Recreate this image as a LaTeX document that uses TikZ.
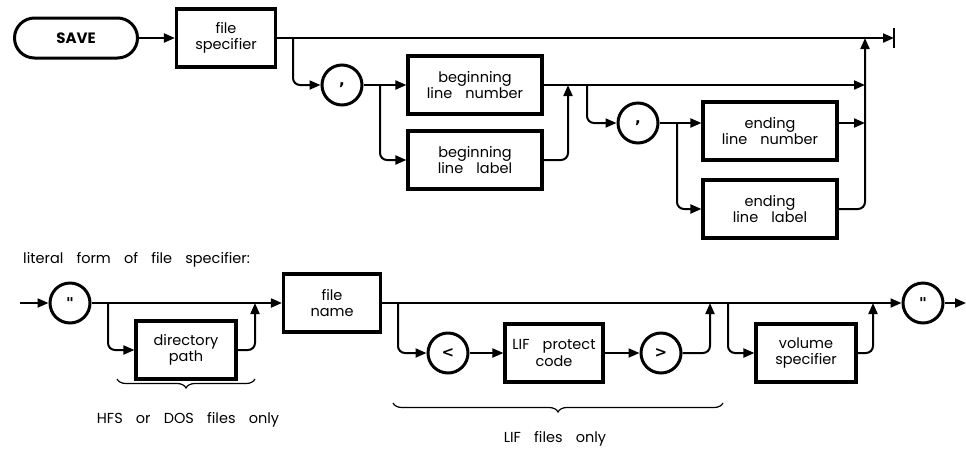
\documentclass[tikz,border=0pt]{standalone}
\usepackage{fontspec}
\setmainfont[WordSpace=3.4]{Poppins}
\newfontfamily\litfont{DejaVu Sans}
\usetikzlibrary{positioning,arrows.meta,decorations.pathreplacing}

\begin{document}
\begin{tikzpicture}[x=1pt,y=-1pt,>={Triangle[length=11pt,width=9pt]},
   every node/.style={font=\fontsize{14.5}{16.5}\selectfont,align=center,inner sep=0pt},
   box/.style={draw,line width=3.2pt,minimum width=#1,minimum height=58pt},
   box/.default=134pt,
   lit/.style={draw,circle,line width=3pt,minimum size=40pt,
     font=\litfont\bfseries\fontsize{15}{15}\selectfont},
   flow/.style={line width=2pt,rounded corners=7pt},
   brc/.style={decorate,decoration={brace,mirror,amplitude=9pt},line width=1.2pt}]
  \useasboundingbox (0,0) rectangle (966,448);
  % SAVE statement
  \node[draw,line width=3pt,rounded corners=20pt,minimum width=123pt,
        minimum height=40pt,font=\bfseries\fontsize{15}{15}\selectfont] (save) at (76,38) {SAVE};
  \node[box=99pt] (fspec) at (226,38) {file\\specifier};
  \node[lit] (comma1) at (342,85) {,};
  \node[box] (bnum) at (475,85) {beginning\\line number};
  \node[box] (blab) at (475,160) {beginning\\line label};
  \node[lit] (comma2) at (638,123) {,};
  \node[box] (enum) at (770,131) {ending\\line number};
  \node[box] (elab) at (770,209) {ending\\line label};
  \coordinate (stop) at (894,38);
  \coordinate (b1) at (293,38);
  \coordinate (s1) at (380,85);
  \coordinate (j1) at (568,85);
  \coordinate (b2) at (587,85);
  \coordinate (s2) at (677,123);
  \coordinate (c0) at (865,38);
  \coordinate (c1) at (865,85);
  \coordinate (c2) at (865,123);
  \draw[line width=2.6pt] (stop) ++(0,-10) -- ++(0,20);
  \draw[flow,->] (save) -- (fspec);
  \draw[flow,->] (fspec) -- (stop);
  \draw[flow,->] (b1) |- (comma1);
  \draw[flow,->] (comma1) -- (bnum);
  \draw[flow,->] (s1) |- (blab);
  \draw[flow,->] (blab) -| (j1);
  \draw[flow,->] (bnum) -- (c1);
  \draw[flow,->] (b2) |- (comma2);
  \draw[flow,->] (comma2) -- (comma2 -| enum.west);
  \draw[flow,->] (s2) |- (elab);
  \draw[flow,->] (c2 -| enum.east) -- (c2);
  \draw[flow,->] (elab) -| (c0);
  % literal form
  \node[anchor=base west] (title) at (23,263) {literal form of file specifier:};
  \coordinate (in) at (20,303);
  \node[lit] (q1) at (70,303) {"};
  \node[box=100pt] (dpath) at (186,350) {directory\\path};
  \node[box=97pt] (fname) at (332,303) {file\\name};
  \node[lit] (lt) at (448,353) {<};
  \node[box=98pt] (lif) at (554,353) {LIF protect\\code};
  \node[lit] (gt) at (661,353) {>};
  \node[box=100pt] (vol) at (806,353) {volume\\specifier};
  \node[lit] (q2) at (923,303) {"};
  \coordinate (out) at (966,303);
  \coordinate (b3) at (108,303);
  \coordinate (j3) at (255,303);
  \coordinate (b4) at (398,303);
  \coordinate (j4) at (710,303);
  \coordinate (b5) at (728,303);
  \coordinate (j5) at (873,303);
  \draw[flow,->] (in) -- (q1);
  \draw[flow,->] (q1) -- (fname);
  \draw[flow,->] (b3) |- (dpath);
  \draw[flow,->] (dpath) -| (j3);
  \draw[flow,->] (fname) -- (q2);
  \draw[flow,->] (b4) |- (lt);
  \draw[flow,->] (lt) -- (lif);
  \draw[flow,->] (lif) -- (gt);
  \draw[flow,->] (gt) -| (j4);
  \draw[flow,->] (b5) |- (vol);
  \draw[flow,->] (vol) -| (j5);
  \draw[flow,->] (q2) -- (out);
  % notes
  \draw[brc] (117,379) -- (255,379);
  \node (hfs) at (188,420) {HFS or DOS files only};
  \draw[brc] (393,403) -- (723,403);
  \node (lifonly) at (555,439) {LIF files only};
\end{tikzpicture}
\end{document}
